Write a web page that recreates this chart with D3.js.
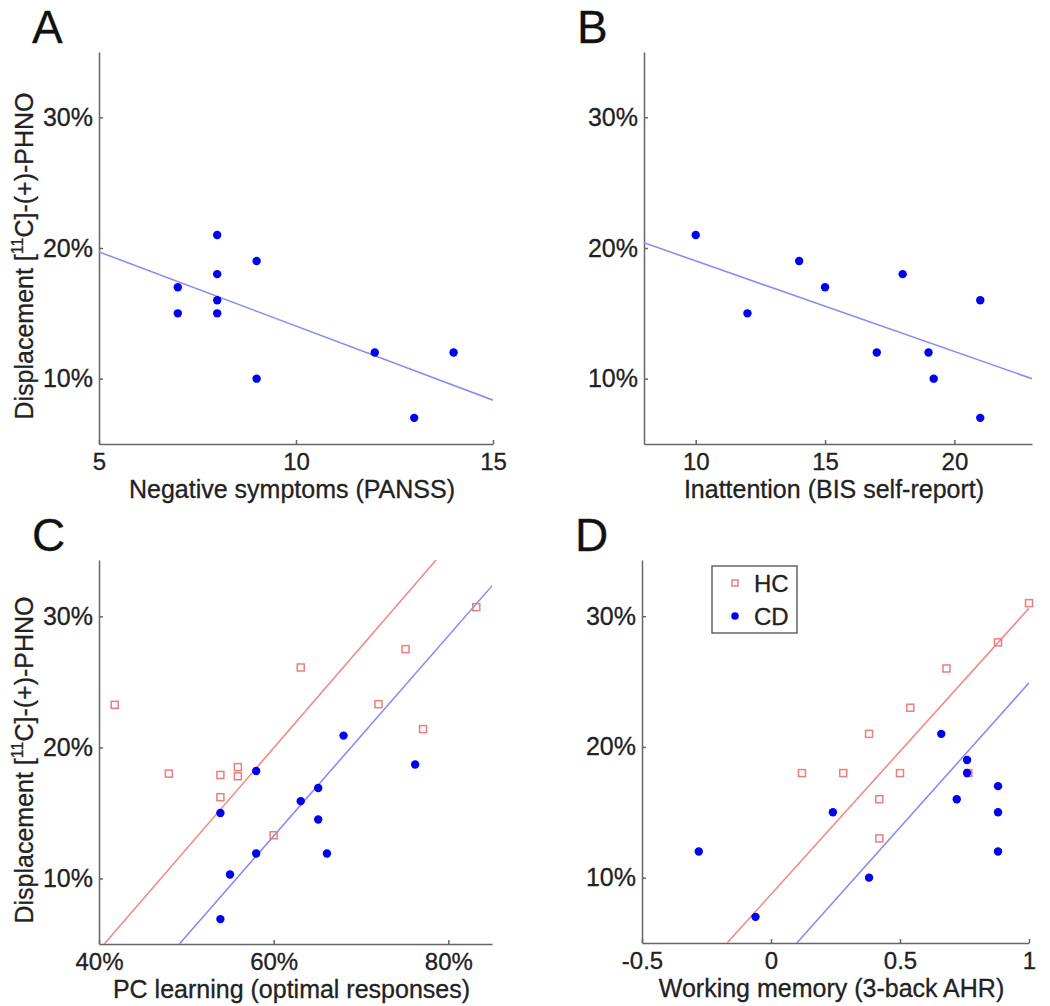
<!DOCTYPE html>
<html lang="en">
<head>
  <meta charset="UTF-8">
  <title>Displacement scatter</title>
  <style>
    body { margin: 0; background: #fff; }
    svg { display: block; font-family: "Liberation Sans", Arial, sans-serif; }
    .tick text { fill: #222; }
    .axis path, .axis line { stroke: #666; stroke-width: 1.5; }
    text { stroke: #222; stroke-width: 0.3; }
  </style>
</head>
<body>
  <svg id="chart" width="1050" height="1006"></svg>

  <script src="https://cdnjs.cloudflare.com/ajax/libs/d3/7.8.5/d3.min.js"></script>
  <script>
    // panel A: negative symptoms (CD only)
    const aX = [7, 7, 8, 8, 8, 8, 9, 9, 12, 13, 14]
    const aY = [0.17, 0.15, 0.21, 0.18, 0.16, 0.15, 0.19, 0.10, 0.12, 0.07, 0.12]
    const aFit = [[5, 0.197], [15, 0.0835]]

    // panel B: inattention (CD only)
    const bX = [10, 12, 14, 15, 17, 18, 19, 19.2, 21, 21]
    const bY = [0.21, 0.15, 0.19, 0.17, 0.12, 0.18, 0.12, 0.10, 0.16, 0.07]
    const bFit = [[8, 0.204], [23, 0.100]]

    // panel C: PC learning
    const cHcX = [0.418, 0.48, 0.539, 0.539, 0.559, 0.559, 0.631, 0.60, 0.72, 0.751, 0.771, 0.832]
    const cHcY = [0.2325, 0.18, 0.179, 0.162, 0.185, 0.178, 0.261, 0.133, 0.233, 0.275, 0.214, 0.307]
    const cCdX = [0.539, 0.58, 0.58, 0.55, 0.539, 0.631, 0.651, 0.651, 0.661, 0.68, 0.762]
    const cCdY = [0.150, 0.182, 0.119, 0.103, 0.069, 0.159, 0.169, 0.145, 0.119, 0.209, 0.187]
    const cHcFit = [[0.406, 0.05], [0.786, 0.343]]
    const cCdFit = [[0.492, 0.05], [0.851, 0.324]]

    // panel D: working memory
    const dHcX = [0.12, 0.28, 0.38, 0.54, 0.50, 0.42, 0.42, 0.68, 0.88, 1.0, 0.765]
    const dHcY = [0.18, 0.18, 0.21, 0.23, 0.18, 0.16, 0.13, 0.26, 0.28, 0.31, 0.18]
    const dCdX = [-0.28, -0.06, 0.24, 0.38, 0.66, 0.76, 0.76, 0.72, 0.88, 0.88, 0.88]
    const dCdY = [0.12, 0.07, 0.15, 0.10, 0.21, 0.19, 0.18, 0.16, 0.17, 0.15, 0.12]
    const dHcFit = [[-0.17, 0.05], [1.0, 0.306]]
    const dCdFit = [[0.10, 0.05], [1.0, 0.249]]

    const yTicks = [0.1, 0.2, 0.3]
    const yLabel = 'Displacement'

    const hcColor = '#f07c7c'
    const cdColor = '#0000f0'
    const hcLine = '#f08a8a'
    const cdLine = '#8c8cf0'

    const svg = d3.select('#chart')

    const panels = [
      { letter: 'A', left: 99, right: 493, top: 52, bottom: 444, xDomain: [5, 15], yDomain: [0.05, 0.35],
        xTicks: [5, 10, 15], xFmt: d => String(d), xLabel: 'Negative symptoms (PANSS)', yTitle: true,
        cd: [aX, aY], cdFit: aFit },
      { letter: 'B', left: 644, right: 1032, top: 52, bottom: 444, xDomain: [8, 23], yDomain: [0.05, 0.35],
        xTicks: [10, 15, 20], xFmt: d => String(d), xLabel: 'Inattention (BIS self-report)', yTitle: false,
        cd: [bX, bY], cdFit: bFit },
      { letter: 'C', left: 99, right: 492, top: 560, bottom: 944, xDomain: [0.4, 0.85], yDomain: [0.05, 0.343],
        xTicks: [0.4, 0.6, 0.8], xFmt: d3.format('.0%'), xLabel: 'PC learning (optimal responses)', yTitle: true,
        hc: [cHcX, cHcY], hcFit: cHcFit, cd: [cCdX, cCdY], cdFit: cCdFit },
      { letter: 'D', left: 642, right: 1029, top: 560, bottom: 943, xDomain: [-0.5, 1], yDomain: [0.05, 0.343],
        xTicks: [-0.5, 0, 0.5, 1], xFmt: d => String(d), xLabel: 'Working memory (3-back AHR)', yTitle: false,
        hc: [dHcX, dHcY], hcFit: dHcFit, cd: [dCdX, dCdY], cdFit: dCdFit, legend: true }
    ]

    panels.forEach((p, i) => {
      const x = d3.scaleLinear().domain(p.xDomain).range([p.left, p.right])
      const y = d3.scaleLinear().domain(p.yDomain).range([p.bottom, p.top])
      const g = svg.append('g')

      g.append('clipPath').attr('id', 'clip' + i)
        .append('rect')
        .attr('x', p.left).attr('y', p.top)
        .attr('width', p.right - p.left).attr('height', p.bottom - p.top)

      // axes, ticks pointing inward like matlab
      g.append('g').attr('class', 'axis')
        .attr('transform', `translate(0,${p.bottom})`)
        .call(d3.axisBottom(x).tickValues(p.xTicks).tickFormat(p.xFmt).tickSizeInner(-4).tickSizeOuter(0).tickPadding(9))
        .call(a => a.selectAll('text').attr('font-size', 24))

      g.append('g').attr('class', 'axis')
        .attr('transform', `translate(${p.left},0)`)
        .call(d3.axisLeft(y).tickValues(yTicks).tickFormat(d3.format('.0%')).tickSizeInner(-4).tickSizeOuter(0).tickPadding(6))
        .call(a => a.selectAll('text').attr('font-size', 25))

      // panel letter
      g.append('text')
        .attr('x', p.left - 67).attr('y', p.top - 9)
        .attr('font-size', 46).attr('fill', '#111').attr('stroke', 'none')
        .text(p.letter)

      // x label
      g.append('text')
        .attr('x', (p.left + p.right) / 2 - 4).attr('y', p.bottom + 54)
        .attr('text-anchor', 'middle').attr('font-size', 25).attr('fill', '#222')
        .text(p.xLabel)

      if (p.yTitle) {
        const t = g.append('text')
          .attr('transform', `translate(${p.left - 66},${(p.top + p.bottom) / 2 + 8}) rotate(-90)`)
          .attr('text-anchor', 'middle').attr('font-size', 25).attr('fill', '#222')
        t.append('tspan').text(yLabel + ' [')
        t.append('tspan').attr('font-size', 16).attr('dy', -10).text('11')
        t.append('tspan').attr('dy', 10).text('C]-(+)-PHNO')
      }

      const line = d3.line().x(d => x(d[0])).y(d => y(d[1]))
      const plot = g.append('g').attr('clip-path', `url(#clip${i})`)

      if (p.hcFit) {
        plot.append('path').datum(p.hcFit).attr('d', line)
          .attr('fill', 'none').attr('stroke', hcLine).attr('stroke-width', 1.6)
      }
      plot.append('path').datum(p.cdFit).attr('d', line)
        .attr('fill', 'none').attr('stroke', cdLine).attr('stroke-width', 1.6)

      if (p.hc) {
        const hcPts = p.hc[0].map((v, k) => [v, p.hc[1][k]])
        g.selectAll('.hc' + i).data(hcPts).enter().append('rect')
          .attr('x', d => x(d[0]) - 3.5).attr('y', d => y(d[1]) - 3.5)
          .attr('width', 7).attr('height', 7)
          .attr('fill', 'none').attr('stroke', hcColor).attr('stroke-width', 1.5)
      }

      const cdPts = p.cd[0].map((v, k) => [v, p.cd[1][k]])
      g.selectAll('.cd' + i).data(cdPts).enter().append('circle')
        .attr('cx', d => x(d[0])).attr('cy', d => y(d[1]))
        .attr('r', 4.2).attr('fill', cdColor)

      if (p.legend) {
        const lg = g.append('g')
        lg.append('rect').attr('x', 712).attr('y', 566).attr('width', 85).attr('height', 67)
          .attr('fill', '#fff').attr('stroke', '#666').attr('stroke-width', 1.5)
        lg.append('rect').attr('x', 732).attr('y', 580).attr('width', 6).attr('height', 6)
          .attr('fill', 'none').attr('stroke', hcColor).attr('stroke-width', 1.5)
        lg.append('circle').attr('cx', 735).attr('cy', 616).attr('r', 3.8).attr('fill', cdColor)
        lg.append('text').attr('x', 754).attr('y', 592).attr('font-size', 24).attr('fill', '#222').text('HC')
        lg.append('text').attr('x', 754).attr('y', 625).attr('font-size', 24).attr('fill', '#222').text('CD')
      }
    })
  </script>
</body>
</html>
